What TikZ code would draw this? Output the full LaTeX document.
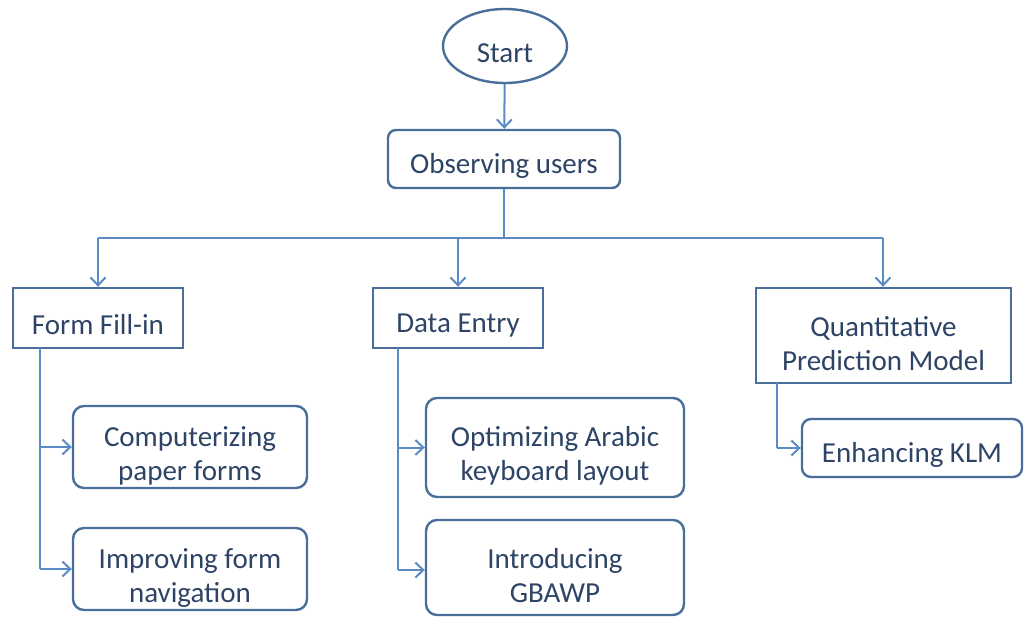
\documentclass[tikz,border=0pt]{standalone}
\usepackage{fontspec}
\setmainfont{Carlito}
\usetikzlibrary{shapes.geometric,arrows.meta}
\definecolor{boxline}{HTML}{4A6E9A}
\definecolor{linkline}{HTML}{5B8BC4}
\definecolor{txt}{HTML}{2E4466}
% extra room above the first line, so the text sits a little low in its box
\newcommand\toppad{\rule{0pt}{37pt}}
\tikzset{
  base/.style={draw=boxline, line width=2.4pt, text=txt, font=\fontsize{29}{34}\selectfont, align=center, inner sep=0pt,
    execute at begin node={\rule{0pt}{33pt}}},
  sqbox/.style={base},
  rdbox/.style={base, rounded corners=11pt},
  oval/.style={base, ellipse},
  link/.style={draw=linkline, line width=2pt},
  arr/.style={link, -{Straight Barb[length=8pt,width=15pt,line width=2pt]}}
}
\begin{document}
\begin{tikzpicture}[x=1pt,y=-1pt]
\useasboundingbox (0,0) rectangle (1028,618);
% start and first step
\node[oval, minimum width=124pt, minimum height=74pt] (start) at (505,46) {Start};
\node[rdbox, minimum width=232pt, minimum height=58pt, rounded corners=8pt] (obs) at (504,159) {Observing users};
% three branches
\node[sqbox, minimum width=170pt, minimum height=60pt] (form) at (98,318) {Form Fill-in};
\node[sqbox, minimum width=170pt, minimum height=60pt] (data) at (458,318) {Data Entry};
\node[sqbox, minimum width=255pt, minimum height=95pt] (quant) at (883.5,335.5) {\toppad Quantitative\\Prediction Model};
% leaves
\node[rdbox, minimum width=234pt, minimum height=82pt] (comp) at (190,447) {\toppad Computerizing\\paper forms};
\node[rdbox, minimum width=234pt, minimum height=82pt] (impr) at (190,569) {\toppad Improving form\\navigation};
\node[rdbox, minimum width=258pt, minimum height=99pt] (opt) at (555,447.5) {\toppad Optimizing Arabic\\keyboard layout};
\node[rdbox, minimum width=258pt, minimum height=95pt] (intro) at (555,567.5) {\toppad Introducing\\GBAWP};
\node[rdbox, minimum width=220pt, minimum height=58pt, rounded corners=9pt] (klm) at (912,448) {Enhancing KLM};
% junction points
\coordinate (bus) at (504,238);
\coordinate (busL) at (98,238);
\coordinate (busR) at (883,238);
\coordinate (fcol) at (40,348);
\coordinate (dcol) at (398,348);
\coordinate (qcol) at (777,383);
% connectors
\draw[arr] (start) -- (obs);
\draw[link] (obs.south) -- (bus);
\draw[link] (busL) -- (busR);
\draw[arr] (busL) -- (form.north);
\draw[arr] (458,238) -- (data.north);
\draw[arr] (busR) -- (busR |- quant.north);
\draw[link] (fcol) -- (fcol |- impr.west);
\draw[arr] (fcol |- comp.west) -- (comp.west);
\draw[arr] (fcol |- impr.west) -- (impr.west);
\draw[link] (dcol) -- (398,570);
\draw[arr] (dcol |- opt.west) -- (opt.west);
\draw[arr] (398,570) -- (opt.west |- 0,570);
\draw[link] (qcol) -- (qcol |- klm.west);
\draw[arr] (qcol |- klm.west) -- (klm.west);
\end{tikzpicture}
\end{document}
